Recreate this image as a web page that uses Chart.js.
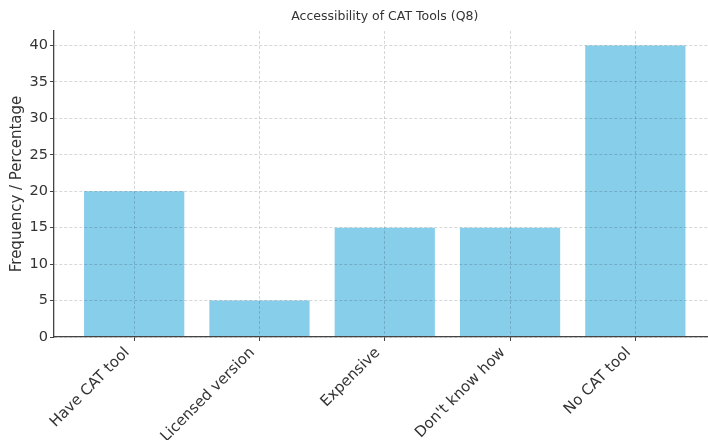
<!DOCTYPE html>
<html>
<head>
<meta charset="utf-8">
<script src="https://cdn.jsdelivr.net/npm/chart.js@4/dist/chart.umd.min.js"></script>
<style>
  html, body { margin: 0; padding: 0; background: #fff; overflow: hidden; }
  canvas { display: block; }
</style>
</head>
<body>
<canvas id="chart" width="708" height="440"></canvas>
<script>
// Survey answers for question 8 and their counts
const categories = ['Have CAT tool', 'Licensed version', 'Expensive', "Don't know how", 'No CAT tool'];
const values = [20, 5, 15, 15, 40];
const yTicks = [0, 5, 10, 15, 20, 25, 30, 35, 40];
const titleText = 'Accessibility of CAT Tools (Q8)';
const yLabel = 'Frequency / Percentage';

const FONT = "'DejaVu Sans', sans-serif";
const TEXT = '#333333';
const GRID = 'rgba(0,0,0,0.2)';
const AXIS = '#444444';

// Title centred over the axes rather than the whole canvas
const axesTitle = {
  id: 'axesTitle',
  afterDraw(chart) {
    const { ctx, scales } = chart;
    const mid = (-0.64 + 4.64) / 2;
    ctx.save();
    ctx.font = '12.5px ' + FONT;
    ctx.fillStyle = TEXT;
    ctx.textAlign = 'center';
    ctx.textBaseline = 'middle';
    ctx.fillText(titleText, scales.x.getPixelForValue(mid), 17);
    ctx.restore();
  }
};

const gridOpts = {
  z: 1,
  offset: false,
  color: GRID,
  lineWidth: 0.8,
  drawTicks: true,
  tickLength: 4,
  tickColor: AXIS,
  tickWidth: 1,
  tickBorderDash: []
};
const borderOpts = { display: true, color: AXIS, width: 1.3, z: 2, dash: [3, 2] };

new Chart(document.getElementById('chart'), {
  type: 'bar',
  data: {
    datasets: [{
      data: categories.map((c, i) => ({ x: i, y: values[i] })),
      backgroundColor: '#87CEEB',
      borderWidth: 0,
      barPercentage: 0.8,
      categoryPercentage: 1.0
    }]
  },
  options: {
    responsive: false,
    animation: false,
    devicePixelRatio: 1,
    layout: { padding: { top: 31, right: 0, left: 0, bottom: 0 } },
    plugins: { legend: { display: false }, tooltip: { enabled: false }, title: { display: false } },
    scales: {
      x: {
        type: 'linear',
        offset: false,
        min: -0.64,
        max: 4.58,
        afterBuildTicks: (s) => { s.ticks = categories.map((c, i) => ({ value: i })); },
        afterFit: (s) => { s.height = 103; },
        ticks: {
          callback: (v) => categories[v] ?? '',
          autoSkip: false,
          minRotation: 45,
          maxRotation: 45,
          padding: 3,
          labelOffset: -7,
          color: TEXT,
          font: { family: FONT, size: 15 }
        },
        grid: gridOpts,
        border: borderOpts
      },
      y: {
        min: 0,
        max: 42,
        afterBuildTicks: (s) => { s.ticks = yTicks.map(v => ({ value: v })); },
        afterFit: (s) => { s.width = 54; },
        ticks: {
          padding: 2,
          color: TEXT,
          font: { family: FONT, size: 14.5 }
        },
        title: {
          display: true,
          text: yLabel,
          color: TEXT,
          font: { family: FONT, size: 15 },
          padding: { top: 8, bottom: 0 }
        },
        grid: gridOpts,
        border: borderOpts
      }
    }
  },
  plugins: [axesTitle]
});
</script>
</body>
</html>
